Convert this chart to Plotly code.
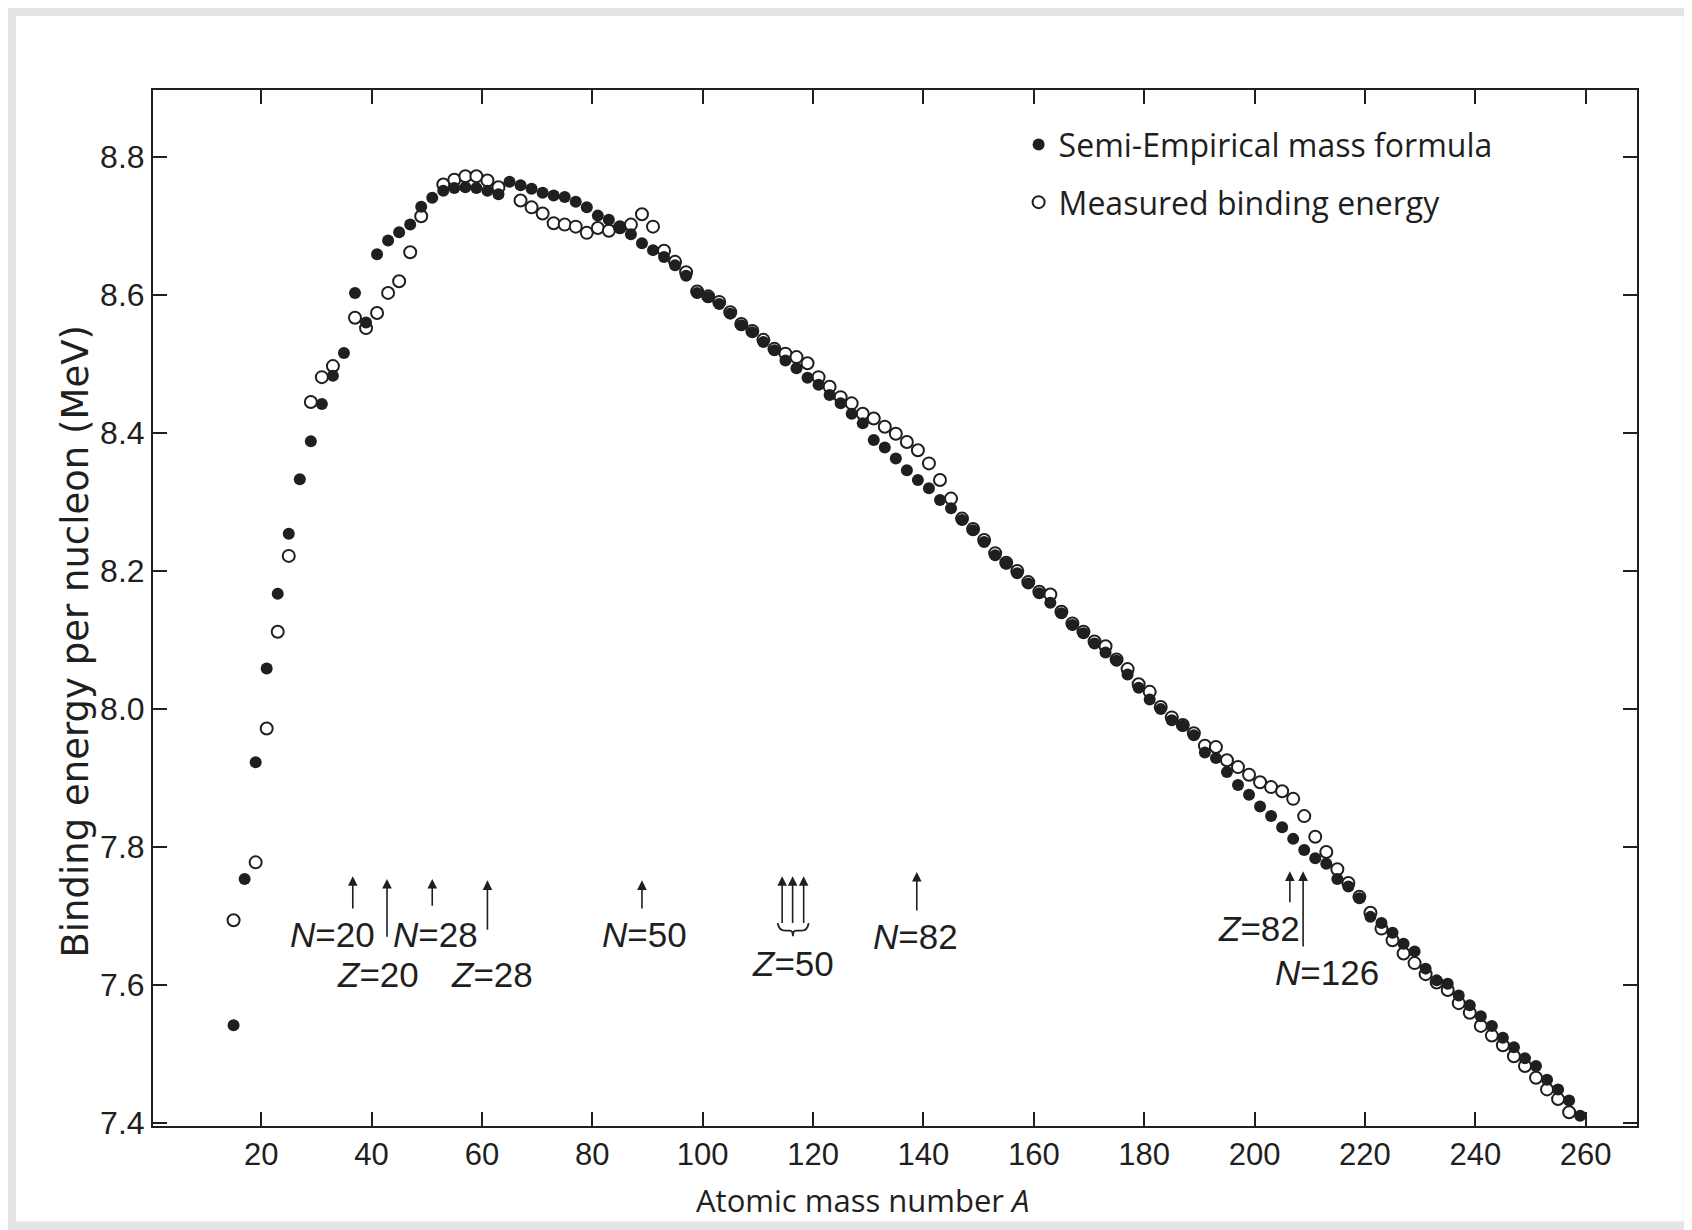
import plotly.graph_objects as go

INK = "#1f1f1f"

# semi-empirical mass formula (filled dots)
semf_A = [15, 17, 19, 21, 23, 25, 27, 29, 31, 33, 35, 37, 39, 41, 43, 45, 47, 49, 51, 53,
          55, 57, 59, 61, 63, 65, 67, 69, 71, 73, 75, 77, 79, 81, 83, 85, 87, 89, 91, 93,
          95, 97, 99, 101, 103, 105, 107, 109, 111, 113, 115, 117, 119, 121, 123, 125, 127, 129, 131, 133,
          135, 137, 139, 141, 143, 145, 147, 149, 151, 153, 155, 157, 159, 161, 163, 165, 167, 169, 171, 173,
          175, 177, 179, 181, 183, 185, 187, 189, 191, 193, 195, 197, 199, 201, 203, 205, 207, 209, 211, 213,
          215, 217, 219, 221, 223, 225, 227, 229, 231, 233, 235, 237, 239, 241, 243, 245, 247, 249, 251, 253,
          255, 257, 259]
semf_BE = [7.542, 7.754, 7.923, 8.059, 8.167, 8.254, 8.333, 8.388, 8.442, 8.483, 8.516, 8.603, 8.560, 8.659, 8.679, 8.691, 8.702, 8.728, 8.741, 8.751,
           8.755, 8.756, 8.755, 8.751, 8.746, 8.764, 8.759, 8.754, 8.748, 8.744, 8.742, 8.735, 8.727, 8.715, 8.709, 8.698, 8.688, 8.675, 8.665, 8.655,
           8.643, 8.628, 8.603, 8.597, 8.587, 8.573, 8.556, 8.546, 8.532, 8.520, 8.505, 8.494, 8.480, 8.470, 8.455, 8.443, 8.428, 8.414, 8.390, 8.379,
           8.363, 8.346, 8.332, 8.320, 8.303, 8.291, 8.274, 8.259, 8.242, 8.223, 8.211, 8.197, 8.182, 8.168, 8.154, 8.139, 8.122, 8.110, 8.095, 8.082,
           8.070, 8.050, 8.031, 8.014, 8.000, 7.984, 7.976, 7.962, 7.937, 7.929, 7.909, 7.890, 7.876, 7.859, 7.845, 7.829, 7.812, 7.796, 7.784, 7.776,
           7.754, 7.743, 7.726, 7.699, 7.690, 7.676, 7.660, 7.649, 7.624, 7.607, 7.602, 7.585, 7.571, 7.555, 7.541, 7.524, 7.510, 7.494, 7.483, 7.463,
           7.449, 7.433, 7.411]

# measured binding energy (open circles)
meas_A = [15, 19, 21, 23, 25, 29, 31, 33, 37, 39, 41, 43, 45, 47, 49, 53, 55, 57, 59, 61,
          63, 67, 69, 71, 73, 75, 77, 79, 81, 83, 85, 87, 89, 91, 93, 95, 97, 99, 101, 103,
          105, 107, 109, 111, 113, 115, 117, 119, 121, 123, 125, 127, 129, 131, 133, 135, 137, 139, 141, 143,
          145, 147, 149, 151, 153, 155, 157, 159, 161, 163, 165, 167, 169, 171, 173, 175, 177, 179, 181, 183,
          185, 187, 189, 191, 193, 195, 197, 199, 201, 203, 205, 207, 209, 211, 213, 215, 217, 219, 221, 223,
          225, 227, 229, 231, 233, 235, 237, 239, 241, 243, 245, 247, 249, 251, 253, 255, 257]
meas_BE = [7.694, 7.778, 7.972, 8.112, 8.222, 8.445, 8.481, 8.497, 8.567, 8.552, 8.574, 8.603, 8.620, 8.662, 8.714, 8.760, 8.767, 8.772, 8.772, 8.766,
           8.756, 8.737, 8.727, 8.718, 8.704, 8.702, 8.699, 8.690, 8.697, 8.693, 8.698, 8.702, 8.717, 8.699, 8.664, 8.648, 8.633, 8.605, 8.598, 8.590,
           8.575, 8.558, 8.548, 8.535, 8.522, 8.515, 8.510, 8.501, 8.481, 8.467, 8.452, 8.443, 8.428, 8.421, 8.409, 8.399, 8.387, 8.375, 8.356, 8.332,
           8.305, 8.276, 8.261, 8.245, 8.226, 8.212, 8.200, 8.184, 8.170, 8.166, 8.141, 8.124, 8.112, 8.098, 8.091, 8.072, 8.058, 8.036, 8.025, 8.003,
           7.988, 7.977, 7.965, 7.947, 7.945, 7.926, 7.916, 7.905, 7.894, 7.887, 7.881, 7.870, 7.845, 7.815, 7.793, 7.768, 7.748, 7.728, 7.705, 7.682,
           7.665, 7.646, 7.632, 7.616, 7.604, 7.593, 7.574, 7.560, 7.541, 7.527, 7.513, 7.497, 7.483, 7.466, 7.449, 7.435, 7.416]

# magic-number arrows and labels
arrow_A = [36.6, 42.8, 51.0, 61.0, 89.0, 114.4, 116.3, 118.3, 138.8, 206.4, 208.8]
arrow_top = [7.758, 7.754, 7.754, 7.752, 7.752, 7.758, 7.758, 7.758, 7.764, 7.765, 7.765]
arrow_bottom = [7.709, 7.668, 7.713, 7.678, 7.709, 7.688, 7.688, 7.688, 7.706, 7.718, 7.654]

label_text = ["<i>N</i>=20", "<i>Z</i>=20", "<i>N</i>=28", "<i>Z</i>=28", "<i>N</i>=50",
              "<i>Z</i>=50", "<i>N</i>=82", "<i>Z</i>=82", "<i>N</i>=126"]
label_A = [32.9, 41.1, 51.6, 61.9, 89.5, 116.4, 138.5, 200.8, 213.2]
label_BE = [7.673, 7.615, 7.673, 7.615, 7.673, 7.632, 7.670, 7.682, 7.618]

x_ticks = [20, 40, 60, 80, 100, 120, 140, 160, 180, 200, 220, 240, 260]
y_ticks = [7.4, 7.6, 7.8, 8.0, 8.2, 8.4, 8.6, 8.8]

fig = go.Figure()
fig.add_trace(go.Scatter(
    x=meas_A, y=meas_BE, mode="markers", name="Measured binding energy",
    legendgroup="b", legendrank=2,
    marker=dict(symbol="circle", size=12, color="white", line=dict(color=INK, width=2)),
))
fig.add_trace(go.Scatter(
    x=semf_A, y=semf_BE, mode="markers", name="Semi-Empirical mass formula",
    legendgroup="a", legendrank=1,
    marker=dict(symbol="circle", size=12, color=INK, line=dict(width=0)),
))

axis_common = dict(
    showline=True, linecolor=INK, linewidth=2, mirror="ticks",
    ticks="inside", ticklen=14, tickwidth=1.5, tickcolor=INK,
    showgrid=False, zeroline=False,
)
fig.update_xaxes(range=[0.4, 269.3], tickvals=x_ticks,
                 tickfont=dict(family="Liberation Sans, Arial", size=31, color=INK),
                 **axis_common)
fig.update_yaxes(range=[7.396, 8.897], tickvals=y_ticks, ticktext=[f"{v:.1f}" for v in y_ticks],
                 tickfont=dict(family="Liberation Sans, Arial", size=32, color=INK),
                 **axis_common)

annotations = []
for a, top, bot in zip(arrow_A, arrow_top, arrow_bottom):
    annotations.append(dict(
        x=a, y=top, ax=a, ay=bot, xref="x", yref="y", axref="x", ayref="y",
        text="", showarrow=True, arrowhead=2, arrowsize=1.2, arrowwidth=1.6, arrowcolor=INK,
    ))
for t, a, b in zip(label_text, label_A, label_BE):
    annotations.append(dict(
        x=a, y=b, xref="x", yref="y", text=t, showarrow=False,
        font=dict(family="Liberation Sans, Arial", size=35, color=INK),
    ))
annotations.append(dict(
    x=0.4783, y=-0.071, xref="paper", yref="paper", xanchor="center", yanchor="middle",
    text="Atomic mass number <i>A</i>",
    showarrow=False, font=dict(family="Open Sans, Arial", size=31, color=INK),
))
annotations.append(dict(
    x=-0.0523, y=0.468, xref="paper", yref="paper", xanchor="center", yanchor="middle",
    text="Binding energy per nucleon (MeV)",
    textangle=-90, showarrow=False, font=dict(family="DejaVu Sans, Arial", size=37, color=INK),
))

fig.update_layout(
    width=1692, height=1230,
    margin=dict(l=145, r=63, t=82, b=112),
    paper_bgcolor="white", plot_bgcolor="white",
    showlegend=True,
    legend=dict(
        x=0.5833, y=0.9737, xanchor="left", yanchor="top",
        traceorder="grouped", tracegroupgap=13,
        bgcolor="rgba(0,0,0,0)", borderwidth=0,
        font=dict(family="Open Sans, Arial", size=32, color=INK),
        itemsizing="constant",
    ),
    annotations=annotations,
    shapes=[
        # brace under the three Z=50 arrows
        dict(type="path", xref="x", yref="y",
             path="M 113.6,7.690 Q 113.8,7.679 115.0,7.679 L 115.8,7.679 Q 116.35,7.679 116.35,7.671 "
                  "Q 116.35,7.679 116.9,7.679 L 117.9,7.679 Q 119.0,7.679 119.2,7.690",
             line=dict(color=INK, width=1.8)),
        # scanned page edge
        dict(type="rect", xref="paper", yref="paper", x0=-0.0977, x1=1.0368, y0=-0.1000, y1=1.0791,
             line=dict(color="#e4e4e4", width=16), layer="below"),
    ],
)

fig.write_html("out.html")
